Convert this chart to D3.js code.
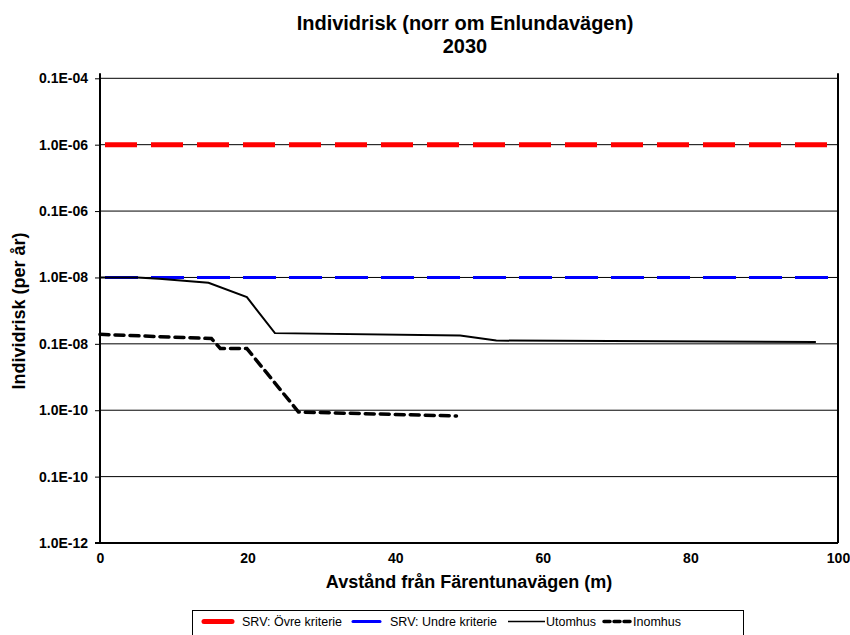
<!DOCTYPE html>
<html><head><meta charset="utf-8">
<script src="https://cdn.jsdelivr.net/npm/d3@7"></script>
<style>body{margin:0;background:#fff}svg{display:block}text{font-family:"Liberation Sans",Arial,sans-serif}</style>
</head><body><svg id="c" width="850" height="635"></svg>
<script>
const title = ["Individrisk (norr om Enlundavägen)", "2030"];
const xTitle = "Avstånd från Färentunavägen (m)";
const yTitle = "Individrisk (per år)";
const yTickValues = [1e-4, 1e-5, 1e-6, 1e-7, 1e-8, 1e-9, 1e-10, 1e-11];
const yTickLabels = ["0.1E-04", "1.0E-06", "0.1E-06", "1.0E-08", "0.1E-08", "1.0E-10", "0.1E-10", "1.0E-12"];
const xTickValues = [0, 20, 40, 60, 80, 100];
const ovreKriterie = [[0, 1e-5], [100, 1e-5]];
const undreKriterie = [[0, 1e-7], [100, 1e-7]];
const utomhus = [[0, 1.0e-7], [5, 1.0e-7], [8, 0.955e-7], [14.7, 0.83e-7], [19.9, 0.505e-7], [23.7, 1.45e-8], [48.8, 1.34e-8], [53.7, 1.12e-8], [97, 1.07e-8]];
const inomhus = [[0, 1.39e-8], [15.1, 1.2e-8], [16.3, 0.85e-8], [19.9, 0.85e-8], [26.9, 0.94e-9], [48.3, 0.82e-9]];
const legendLabels = ["SRV: Övre kriterie", "SRV: Undre kriterie", "Utomhus", "Inomhus"];

const svg = d3.select("#c");
const L = 100, R = 838, T = 78.3, B = 543;
const x = d3.scaleLinear().domain([0, 100]).range([L, R]);
const y = d3.scaleLog().domain([1e-11, 1e-4]).range([B, T]);

// grid
svg.append("g").selectAll("line").data(yTickValues).join("line")
  .attr("x1", L).attr("x2", R).attr("y1", d => y(d)).attr("y2", d => y(d))
  .attr("stroke", "#000").attr("stroke-width", 1);

// axes
const ya = svg.append("g").attr("transform", `translate(${L},0)`)
  .call(d3.axisLeft(y).tickValues(yTickValues).tickFormat((d, i) => yTickLabels[i]).tickSize(5).tickPadding(7));
ya.select(".domain").attr("stroke-width", 2).attr("d", `M0,${T - 5}V${B}`);
ya.selectAll("text").attr("font-size", 14).attr("font-weight", "bold").attr("fill", "#000");
const xa = svg.append("g").attr("transform", `translate(0,${B})`)
  .call(d3.axisBottom(x).tickValues(xTickValues).tickSize(0).tickPadding(10));
xa.select(".domain").attr("stroke-width", 2).attr("d", `M${L - 5},0H${R}`);
xa.selectAll("text").attr("font-size", 14).attr("font-weight", "bold").attr("fill", "#000");
// right border
svg.append("line").attr("x1", R).attr("x2", R).attr("y1", T - 5).attr("y2", B).attr("stroke", "#000").attr("stroke-width", 2);

const line = d3.line().x(d => x(d[0])).y(d => y(d[1]));
svg.append("path").datum(ovreKriterie).attr("d", line).attr("fill", "none").attr("stroke", "#ff0000")
  .attr("stroke-width", 5).attr("stroke-dasharray", "32,14").attr("stroke-dashoffset", -5);
svg.append("path").datum(undreKriterie).attr("d", line).attr("fill", "none").attr("stroke", "#0000ff")
  .attr("stroke-width", 3).attr("stroke-dasharray", "33,13").attr("stroke-dashoffset", -5);
svg.append("path").datum(utomhus).attr("d", line).attr("fill", "none").attr("stroke", "#000").attr("stroke-width", 2);
svg.append("path").datum(inomhus).attr("d", line).attr("fill", "none").attr("stroke", "#000")
  .attr("stroke-width", 3.5).attr("stroke-dasharray", "9,6").attr("stroke-linecap", "round");

// titles
svg.append("text").attr("x", 465).attr("y", 30).attr("text-anchor", "middle").attr("font-size", 20).attr("font-weight", "bold").text(title[0]);
svg.append("text").attr("x", 465).attr("y", 53).attr("text-anchor", "middle").attr("font-size", 20).attr("font-weight", "bold").text(title[1]);
svg.append("text").attr("x", 469).attr("y", 588).attr("text-anchor", "middle").attr("font-size", 18).attr("font-weight", "bold").text(xTitle);
svg.append("text").attr("transform", "translate(25,311) rotate(-90)").attr("text-anchor", "middle").attr("font-size", 18).attr("font-weight", "bold").text(yTitle);

// legend
const lg = svg.append("g");
lg.append("rect").attr("x", 192.5).attr("y", 610.5).attr("width", 551).attr("height", 40).attr("fill", "#fff").attr("stroke", "#000").attr("stroke-width", 1);
const ly = 621.5;
const items = [
  {x1: 204, x2: 232, tx: 242, color: "#ff0000", w: 5, dash: null},
  {x1: 353, x2: 380, tx: 390, color: "#0000ff", w: 3, dash: null},
  {x1: 508, x2: 545, tx: 546, color: "#000", w: 1.5, dash: null},
  {x1: 604, x2: 631, tx: 633, color: "#000", w: 3.5, dash: "6,4"}
];
items.forEach((it, i) => {
  const l = lg.append("line").attr("x1", it.x1).attr("x2", it.x2).attr("y1", ly).attr("y2", ly)
    .attr("stroke", it.color).attr("stroke-width", it.w).attr("stroke-linecap", i < 2 ? "round" : "butt");
  if (it.dash) l.attr("stroke-dasharray", it.dash).attr("stroke-linecap", "round");
  lg.append("text").attr("x", it.tx).attr("y", ly + 4.5).attr("font-size", 12.5).text(legendLabels[i]);
});
</script></body></html>
